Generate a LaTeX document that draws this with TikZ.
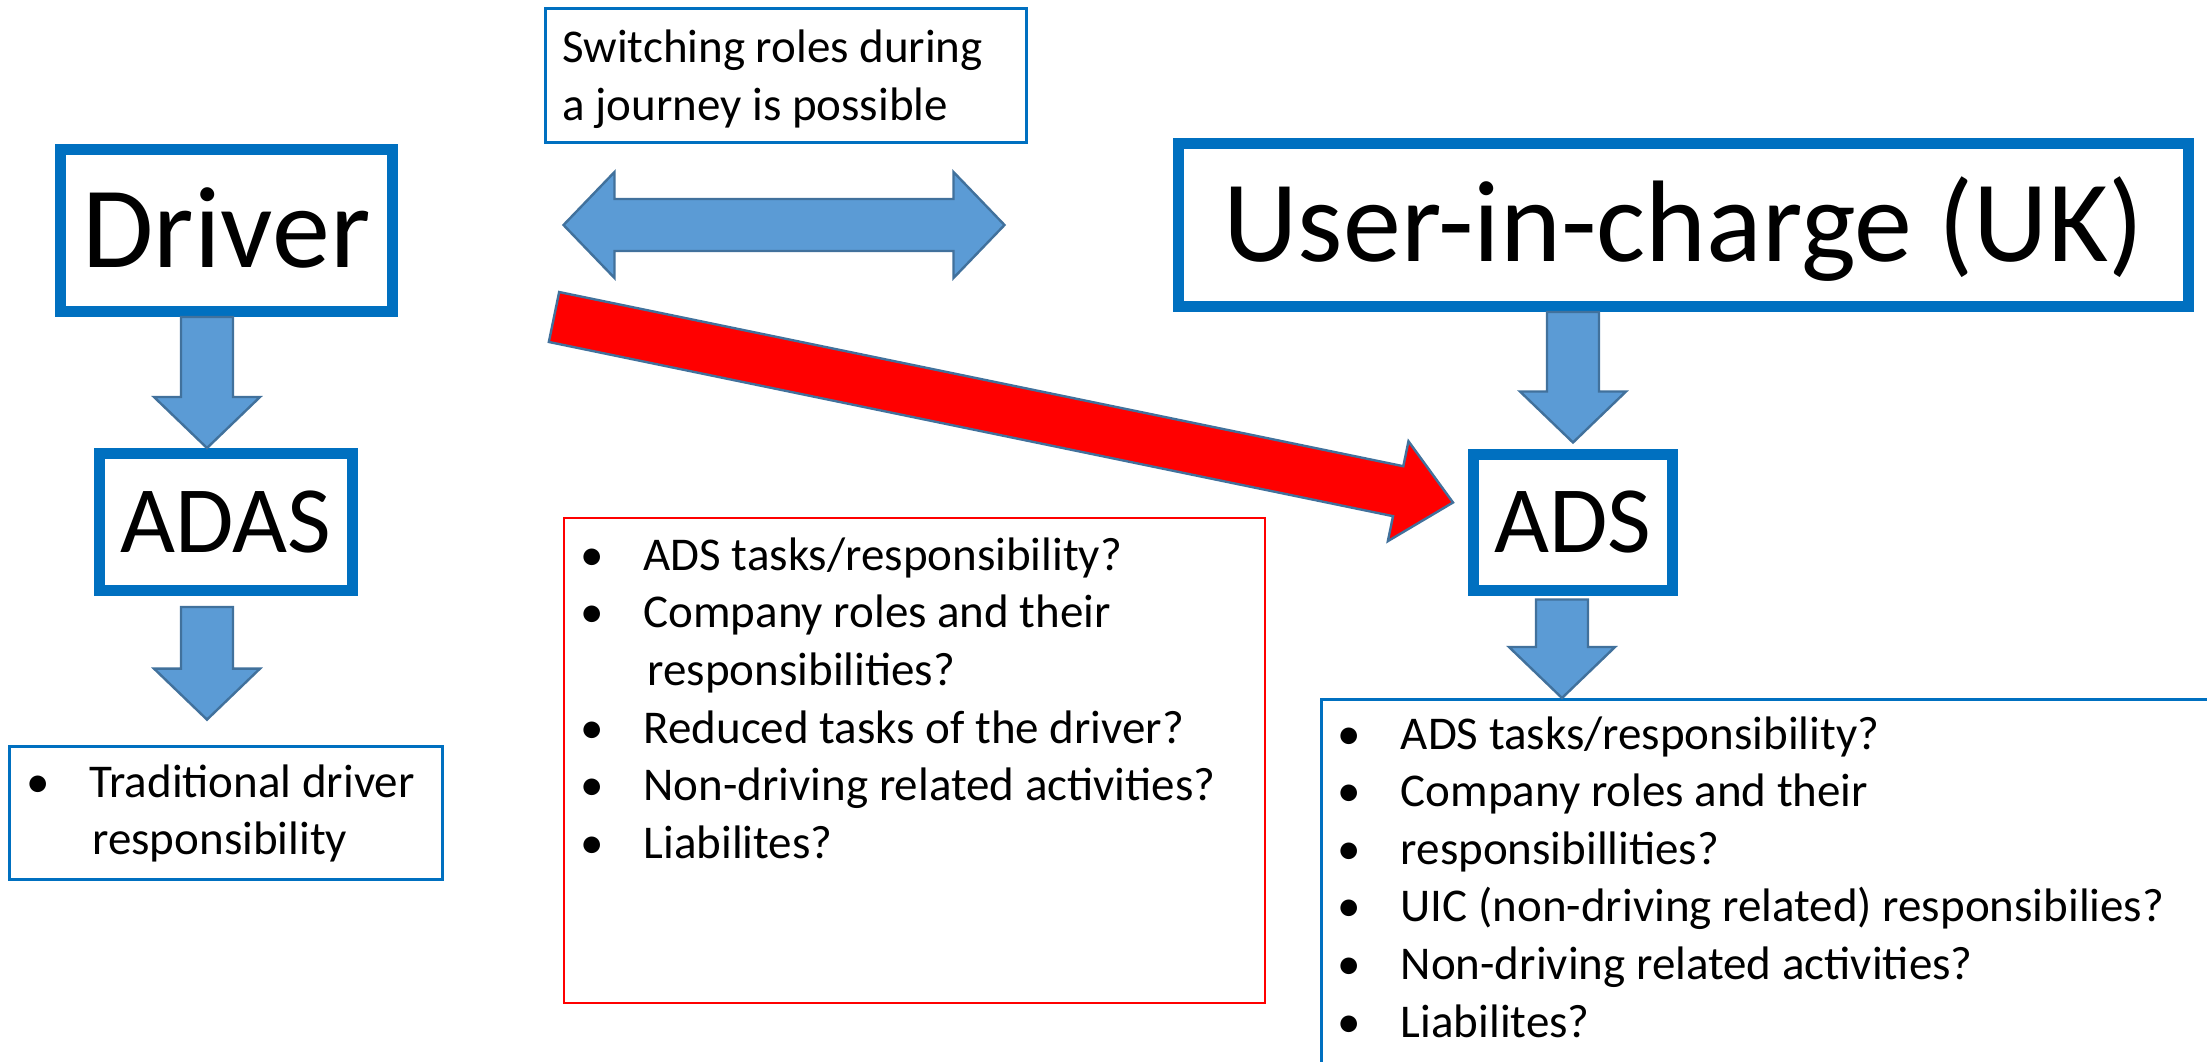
\documentclass[tikz,border=0pt]{standalone}
\usepackage{fontspec}
\setmainfont{Carlito}
\usetikzlibrary{calc}
\definecolor{boxblue}{RGB}{0,112,192}
\definecolor{arrfill}{RGB}{91,155,213}
\definecolor{arredge}{RGB}{65,113,156}
\definecolor{qred}{RGB}{255,0,0}

% block arrow sizes (half shaft, half head, head length)
\newcommand{\arrshaft}{6.5pt}
\newcommand{\arrhead}{13.25pt}
\newcommand{\arrlen}{12.75pt}
\newcommand{\bul}{\makebox[13.75pt][l]{\hspace{-2pt}\textbullet}}
% block arrow from #2 to #3
\newcommand{\fatarrow}[3][]{%
  \coordinate (fab) at ($(#3)!\arrlen!(#2)$);
  \draw[#1] ($(#2)!\arrshaft!90:(#3)$) -- ($(fab)!\arrshaft!-90:(#2)$)
    -- ($(fab)!\arrhead!-90:(#2)$) -- (#3)
    -- ($(fab)!\arrhead!90:(#2)$) -- ($(fab)!\arrshaft!90:(#2)$)
    -- ($(#2)!\arrshaft!-90:(#3)$) -- cycle;
}
% block arrow with a head at both ends
\newcommand{\dblarrow}[3][]{%
  \coordinate (fba) at ($(#2)!\arrlen!(#3)$);
  \coordinate (fbb) at ($(#3)!\arrlen!(#2)$);
  \draw[#1] (#2) -- ($(fba)!\arrhead!-90:(#2)$) -- ($(fba)!\arrshaft!-90:(#2)$)
    -- ($(fbb)!\arrshaft!90:(#3)$) -- ($(fbb)!\arrhead!90:(#3)$) -- (#3)
    -- ($(fbb)!\arrhead!-90:(#3)$) -- ($(fbb)!\arrshaft!-90:(#3)$)
    -- ($(fba)!\arrshaft!90:(#2)$) -- ($(fba)!\arrhead!90:(#2)$) -- cycle;
}

\begin{document}
\begin{tikzpicture}[x=0.25pt,y=0.25pt,yscale=-1,
  rolebox/.style={draw=boxblue, line width=2.75pt, fill=white, inner sep=0pt,
    font=\fontsize{29}{34}\selectfont, text height=18.3pt, text depth=0pt},
  sysbox/.style={rolebox, font=\fontsize{23.75}{28}\selectfont, text height=15pt},
  notebox/.style={draw=boxblue, line width=0.7pt, inner sep=0pt},
  qbox/.style={draw=qred, line width=0.6pt, inner sep=0pt},
  listtxt/.style={anchor=base west, inner sep=0pt, font=\fontsize{11.75}{14.4}\selectfont},
  blockarr/.style={fill=arrfill, draw=arredge, line width=0.6pt},
  redarr/.style={fill=qred, draw=arredge, line width=0.6pt}]
\clip (0,0) rectangle (2207,1061);

%Shape: Rectangle [roles]
\node[rolebox, minimum width=83pt, minimum height=40.5pt] (driver) at (226.5,230.5) {Driver};
\node[rolebox, minimum width=252.5pt, minimum height=40.75pt] (uic) at (1683.5,225) {User-in-charge (UK)};
%Shape: Rectangle [systems]
\node[sysbox, minimum width=63.25pt, minimum height=34.25pt] (adas) at (226,522) {ADAS};
\node[sysbox, minimum width=49.75pt, minimum height=34pt] (ads) at (1573,522.5) {ADS};

% Text Node
\node[notebox, minimum width=120.25pt, minimum height=33.5pt] (switch) at (786,75.5) {};
\node[listtxt, font=\fontsize{11.75}{14.5}\selectfont] (switchtxt) at ($(switch.north west)+(17.5,55)$)
  {\parbox[t]{200pt}{Switching roles during\\a journey is possible}};
% Text Node
\node[notebox, minimum width=108.25pt, minimum height=33.25pt] (trad) at (226,813) {};
\node[listtxt, font=\fontsize{11.75}{14.25}\selectfont] (tradtxt) at ($(trad.north west)+(25.5,52.5)$)
  {\parbox[t]{200pt}{\bul Traditional driver\\\hspace*{14.5pt}responsibility}};
% Text Node
\node[qbox, minimum width=175.25pt, minimum height=121.25pt] (openq) at (914.5,760.5) {};
\node[listtxt] (openqtxt) at ($(openq.north west)+(25,53.5)$)
  {\parbox[t]{200pt}{\bul ADS tasks/responsibility?\\\bul Company roles and their\\\hspace*{14.75pt}responsibilities?\\\bul Reduced tasks of the driver?\\\bul Non-driving related activities?\\\bul Liabilites?}};
% Text Node
\node[notebox, anchor=north west, minimum width=250pt, minimum height=100pt] (adslist) at (1320,698) {};
\node[listtxt] (adslisttxt) at ($(adslist.north west)+(25,51)$)
  {\parbox[t]{240pt}{\bul ADS tasks/responsibility?\\\bul Company roles and their\\\bul responsibillities?\\\bul UIC (non-driving related) responsibilies?\\\bul Non-driving related activities?\\\bul Liabilites?}};

%Block arrows
\coordinate (d1) at ($(driver.south)+(-19.5,0)$);
\coordinate (d2) at (d1 |- adas.north);
\fatarrow[blockarr]{d1}{d2}
\coordinate (a1) at ($(adas.south)+(-19,11)$);
\coordinate (a2) at ($(trad.north)+(-19,-25.5)$);
\fatarrow[blockarr]{a1}{a2}
\coordinate (u1) at (ads.north |- uic.south);
\coordinate (u2) at ($(ads.north)+(0,-6.5)$);
\fatarrow[blockarr]{u1}{u2}
\coordinate (s1) at ($(ads.south)+(-11,3.5)$);
\coordinate (s2) at (s1 |- adslist.north);
\fatarrow[blockarr]{s1}{s2}
\coordinate (swl) at ($(driver.east |- uic.west)+(165.5,0)$);
\coordinate (swr) at ($(uic.west)+(-168.5,0)$);
\dblarrow[blockarr]{swl}{swr}
%Red arrow
\coordinate (r1) at ($(driver.south east)+(156,0)$);
\coordinate (r2) at ($(ads.west)+(-15,-20)$);
\renewcommand{\arrshaft}{6.375pt}\renewcommand{\arrhead}{12.75pt}\renewcommand{\arrlen}{14pt}
\fatarrow[redarr]{r1}{r2}

\end{tikzpicture}
\end{document}
